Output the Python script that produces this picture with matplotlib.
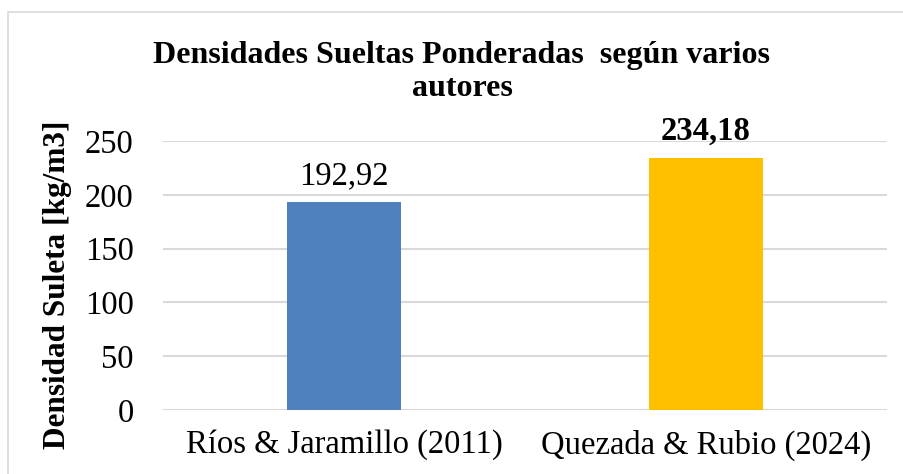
import matplotlib
matplotlib.use("Agg")
import matplotlib.pyplot as plt
from matplotlib.patches import Rectangle

categories = ["Ríos & Jaramillo (2011)", "Quezada & Rubio (2024)"]
values = [192.92, 234.18]
value_labels = ["192,92", "234,18"]
colors = ["#4F81BD", "#FFC000"]
yticks = [0, 50, 100, 150, 200, 250]

plt.rcParams['font.family'] = ['Liberation Serif', 'DejaVu Serif']

fig = plt.figure(figsize=(9.04, 4.74), dpi=100)
ax = fig.add_axes([163/904, 1-410/474, (887-163)/904, (410-141)/474])
ax.set_ylim(0, 250)
ax.set_xlim(-0.5, 1.5)

x = list(range(len(categories)))
ax.bar(x, values, width=0.315, color=colors, zorder=3)
for xi, v, lab, bold in zip(x, values, value_labels, [False, True]):
    ax.text(xi, v + 17, lab, ha='center', va='baseline', fontsize=23.5,
            fontweight='bold' if bold else 'normal')

ax.set_yticks(yticks)
ax.set_xticks(x)
ax.set_xticklabels(categories, fontsize=23.5)
ax.tick_params(axis='y', labelsize=23.5, length=0, pad=21)
ax.tick_params(axis='x', length=0, pad=14)
ax.yaxis.grid(True, color='#D9D9D9', linewidth=1.5, zorder=0)
for s in ax.spines.values():
    s.set_visible(False)
ax.set_ylabel("Densidad Suleta [kg/m3]", fontsize=22.5, fontweight='bold')
ax.yaxis.set_label_coords(-(163-72)/724, 0.465)

fig.text(462/904, 1 - 55/474, "Densidades Sueltas Ponderadas  según varios",
         ha='center', va='center', fontsize=23, fontweight='bold')
fig.text(462/904, 1 - 88/474, "autores",
         ha='center', va='center', fontsize=23, fontweight='bold')

fig.patches.append(Rectangle((8/904, -0.01), 1.0, 1 - 12/474 + 0.01, transform=fig.transFigure,
                             fill=False, edgecolor='#D9D9D9', linewidth=1.2))

fig.savefig("out.png", dpi=100)
